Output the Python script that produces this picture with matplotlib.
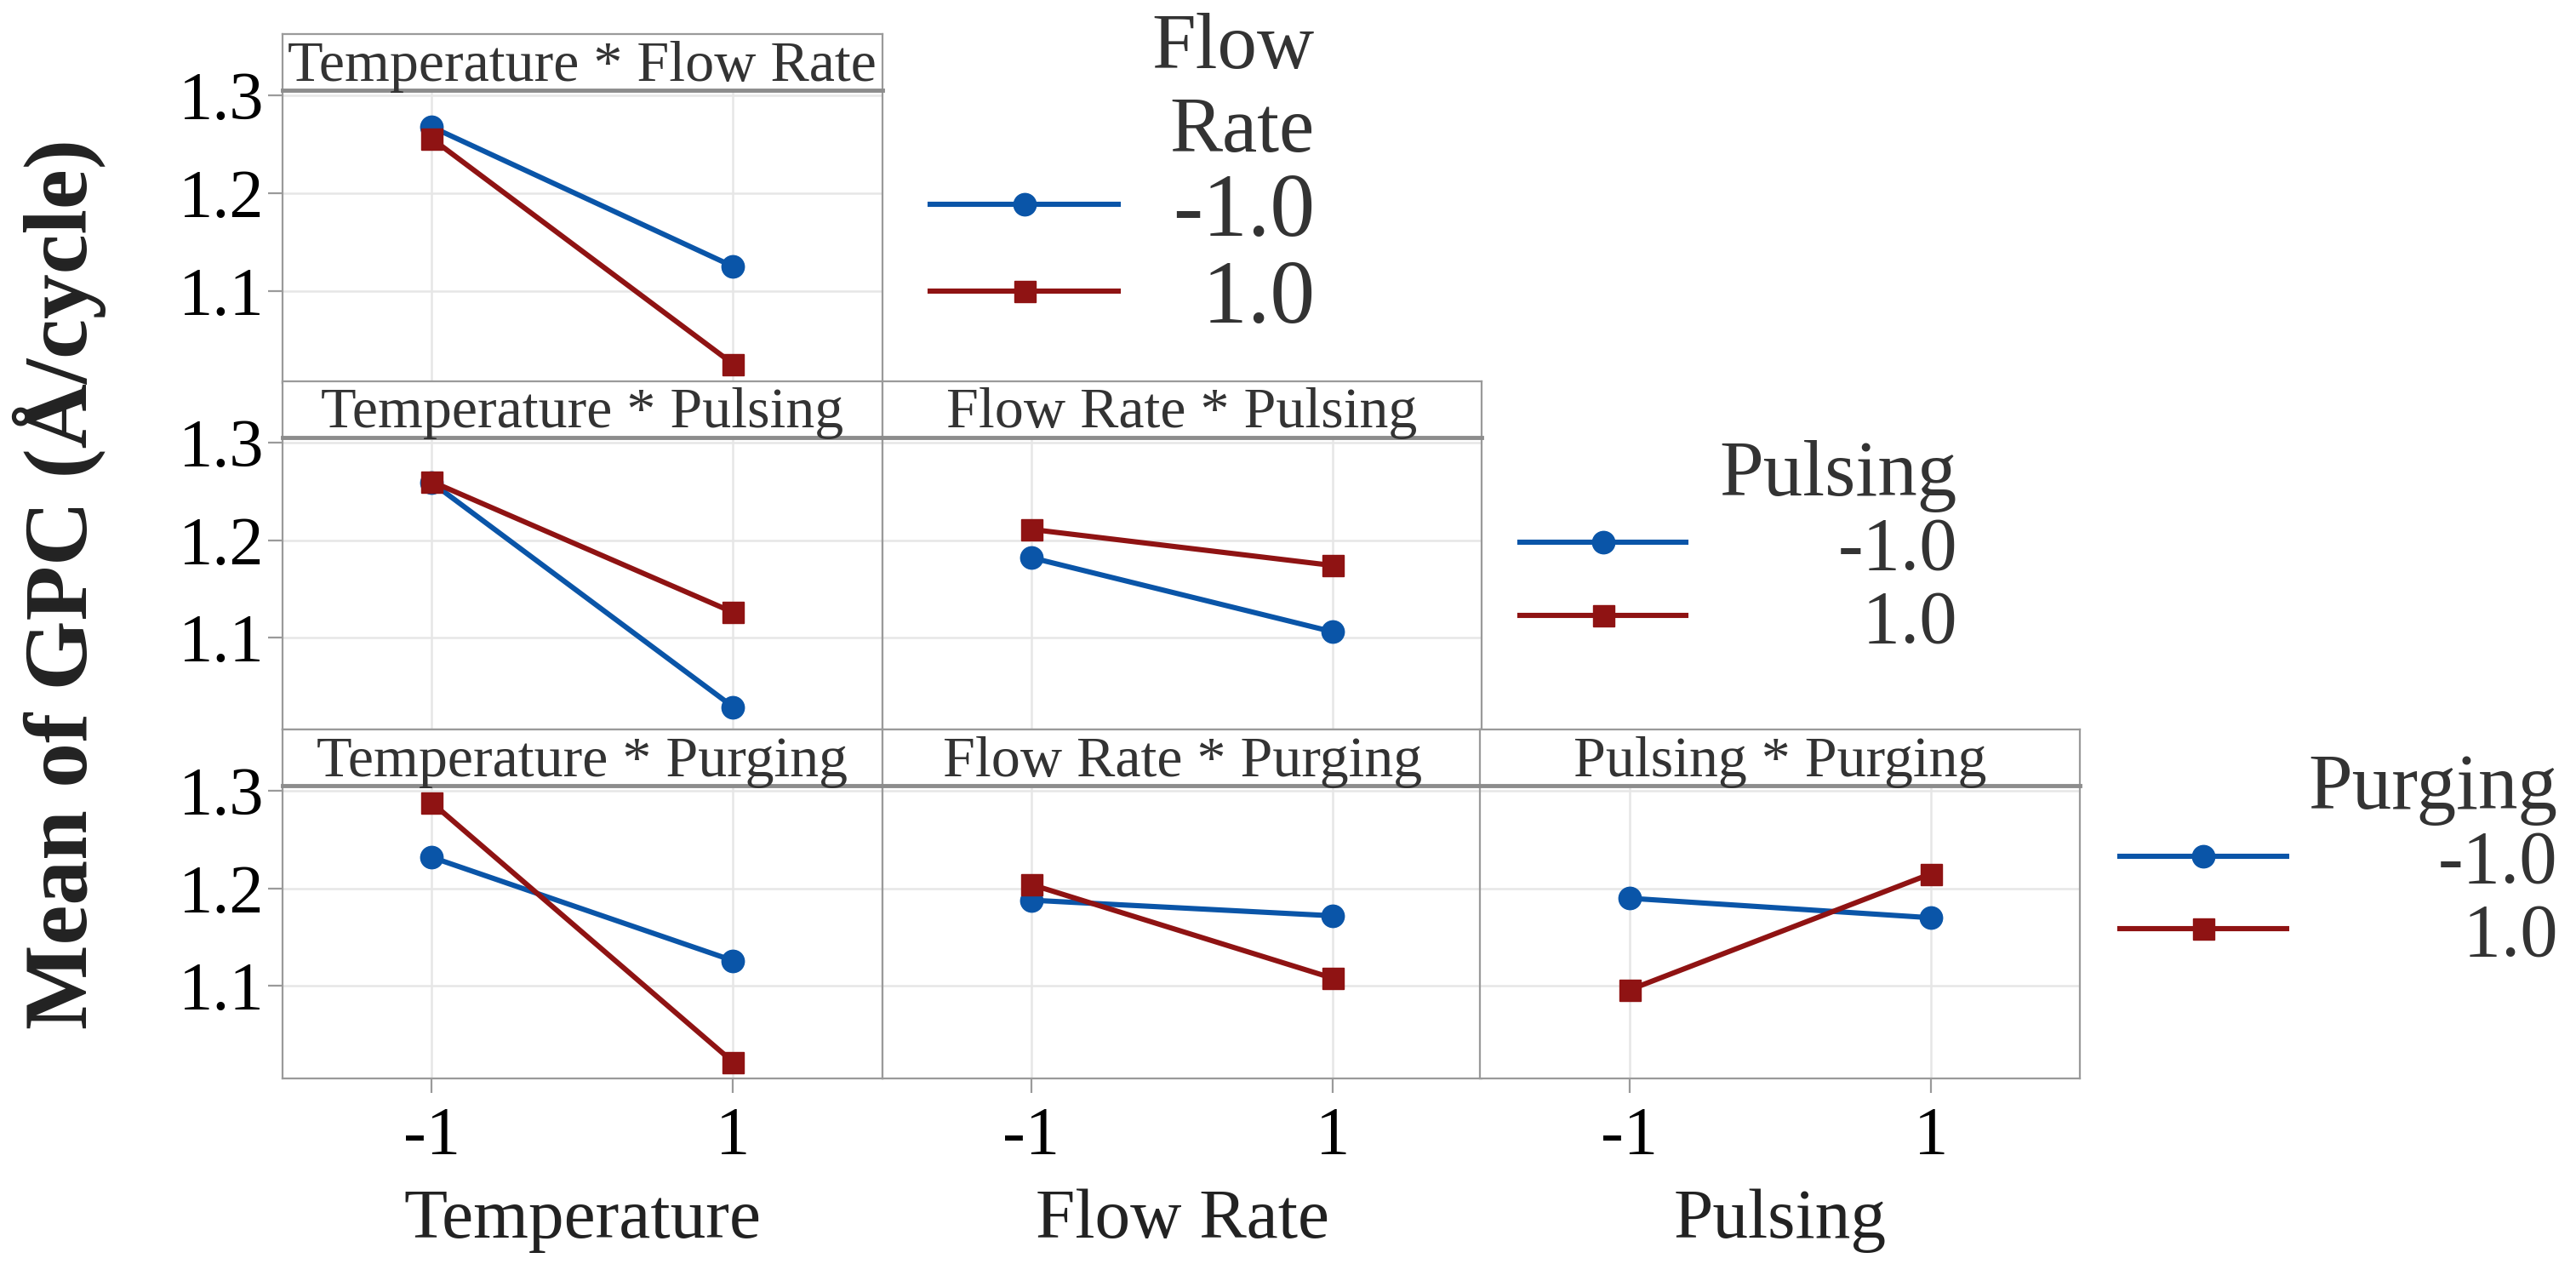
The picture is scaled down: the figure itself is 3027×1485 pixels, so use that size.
import matplotlib
matplotlib.use('Agg')
import matplotlib.pyplot as plt
from matplotlib.font_manager import FontProperties

SERIF = 'Liberation Serif'
plt.rcParams['font.family'] = SERIF


def fp(size, weight='normal'):
    return FontProperties(family=SERIF, size=size, weight=weight)


levels = [-1, 1]
level_labels = ['-1.0', '\u20041.0']

# means of GPC for each interaction (second factor at -1 / +1)
temp_flow_lo = [1.268, 1.125]
temp_flow_hi = [1.256, 1.025]
temp_puls_lo = [1.259, 1.029]
temp_puls_hi = [1.260, 1.126]
flow_puls_lo = [1.182, 1.106]
flow_puls_hi = [1.211, 1.174]
temp_purg_lo = [1.232, 1.126]
temp_purg_hi = [1.288, 1.022]
flow_purg_lo = [1.188, 1.172]
flow_purg_hi = [1.204, 1.108]
puls_purg_lo = [1.190, 1.170]
puls_purg_hi = [1.096, 1.215]

x_factors = ['Temperature', 'Flow Rate', 'Pulsing']
trace_factors = ['Flow\nRate', 'Pulsing', 'Purging']
y_ticks = [1.1, 1.2, 1.3]

panels = [
    (0, 0, 'Temperature * Flow Rate', temp_flow_lo, temp_flow_hi),
    (1, 0, 'Temperature * Pulsing', temp_puls_lo, temp_puls_hi),
    (1, 1, 'Flow Rate * Pulsing', flow_puls_lo, flow_puls_hi),
    (2, 0, 'Temperature * Purging', temp_purg_lo, temp_purg_hi),
    (2, 1, 'Flow Rate * Purging', flow_purg_lo, flow_purg_hi),
    (2, 2, 'Pulsing * Purging', puls_purg_lo, puls_purg_hi),
]

blue = '#0a55a8'
red = '#8f1313'
frame = '#9a9a9a'
grid = '#e6e6e6'

fig = plt.figure(figsize=(30.27, 14.85), dpi=100)

col_left = [0.1097, 0.3425, 0.5746]
col_w = 0.2328
row_bottom = [0.697, 0.4226, 0.147]
plot_h = 0.2315
strip_h = 0.0445

for r, c, title, lo, hi in panels:
    ax = fig.add_axes([col_left[c], row_bottom[r], col_w, plot_h])
    l1, = ax.plot(levels, lo, color=blue, lw=4.4, marker='o', ms=19, label=level_labels[0], zorder=3)
    l2, = ax.plot(levels, hi, color=red, lw=4.4, marker='s', ms=18, label=level_labels[1], zorder=4)
    ax.set_xlim(-1.99, 1.99)
    ax.set_ylim(1.0055, 1.3055)
    ax.set_xticks(levels)
    ax.set_yticks(y_ticks)
    ax.grid(True, color=grid, lw=1.8)
    ax.set_axisbelow(True)
    for s in ax.spines.values():
        s.set_color(frame)
        s.set_linewidth(1.6)
    ax.tick_params(color=frame, width=1.6, length=12)
    if c == 0:
        ax.set_yticklabels([f'{v:.1f}' for v in y_ticks], fontproperties=fp(58))
    else:
        ax.tick_params(axis='y', left=False, labelleft=False)
    if r == 2:
        ax.set_xticklabels([str(v) for v in levels], fontproperties=fp(58))
        ax.set_xlabel(x_factors[c], fontproperties=fp(60), color='#222222', labelpad=17)
        ax.tick_params(axis='x', pad=12)
    else:
        ax.tick_params(axis='x', bottom=False, labelbottom=False)

    # strip with the interaction name
    sax = fig.add_axes([col_left[c], row_bottom[r] + plot_h, col_w, strip_h])
    sax.set_xticks([])
    sax.set_yticks([])
    for s in sax.spines.values():
        s.set_color(frame)
        s.set_linewidth(1.6)
    sax.spines['bottom'].set_linewidth(3.5)
    sax.spines['bottom'].set_color('#8c8c8c')
    sax.text(0.5, 0.42, title, ha='center', va='center', fontproperties=fp(49),
             color='#333333', transform=sax.transAxes)

    if c == r:
        if r == 0:
            anchor, fs, hl, htp = (0.361, 0.99), 76, 2.1, 0.6
        elif r == 1:
            anchor, fs, hl, htp = (0.590, 0.652), 64, 2.2, 2.0
        else:
            anchor, fs, hl, htp = (0.823, 0.404), 64, 2.2, 2.0
        leg = ax.legend(handles=[l1, l2], title=trace_factors[r], loc='upper left',
                        bbox_to_anchor=anchor, bbox_transform=fig.transFigure,
                        frameon=False, alignment='right', prop=fp(fs),
                        title_fontproperties=fp(67), handlelength=hl, handletextpad=htp,
                        labelspacing=0.05, borderpad=0, borderaxespad=0)
        leg.get_title().set_multialignment('right')
        leg.get_title().set_color('#333333')
        for t in leg.get_texts():
            t.set_color('#333333')

fig.text(0.023, 0.538, 'Mean of GPC (\u00c5/cycle)', rotation=90, ha='center', va='center',
         fontproperties=fp(76, 'bold'), color='#222222')

fig.savefig('out.png', dpi=100)
